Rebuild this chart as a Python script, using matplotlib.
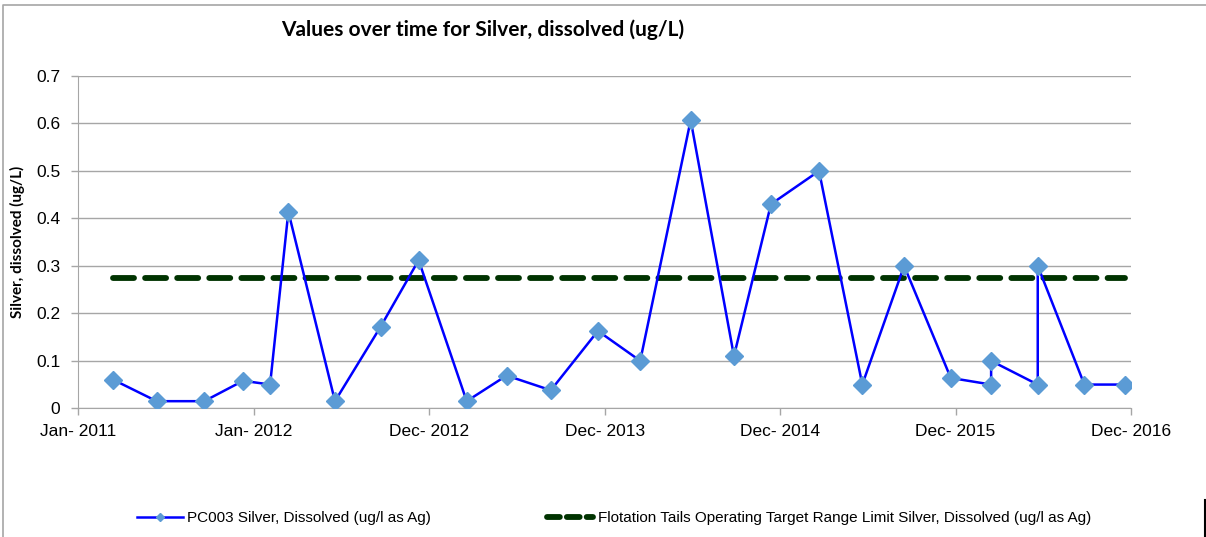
import pandas as pd
import numpy as np
import matplotlib.pyplot as plt
from matplotlib.lines import Line2D

# sample dates and dissolved silver (ug/L)
sample_dates = ['2011-03-15', '2011-06-13', '2011-09-20', '2011-12-10', '2012-02-04',
                '2012-03-13', '2012-06-18', '2012-09-21', '2012-12-09', '2013-03-19',
                '2013-06-10', '2013-09-10', '2013-12-17', '2014-03-15', '2014-06-28',
                '2014-09-26', '2014-12-12', '2015-03-22', '2015-06-20', '2015-09-15',
                '2015-12-21', '2016-03-14', '2016-03-14', '2016-06-19', '2016-06-19',
                '2016-09-24', '2016-12-18']
silver = [0.060, 0.015, 0.015, 0.058, 0.050,
          0.414, 0.015, 0.172, 0.312, 0.015,
          0.069, 0.038, 0.163, 0.100, 0.607,
          0.110, 0.430, 0.500, 0.050, 0.300,
          0.064, 0.050, 0.100, 0.050, 0.300,
          0.050, 0.050]
limit_value = 0.275

tick_labels = ['Jan- 2011', 'Jan- 2012', 'Dec- 2012', 'Dec- 2013',
               'Dec- 2014', 'Dec- 2015', 'Dec- 2016']
axis_start = pd.Timestamp('2011-01-01')
tick_step_days = 365

series_label = 'PC003 Silver, Dissolved (ug/l as Ag)'
limit_label = 'Flotation Tails Operating Target Range Limit Silver, Dissolved (ug/l as Ag)'

dates = pd.to_datetime(sample_dates)
ticks = [axis_start + pd.Timedelta(days=tick_step_days * i) for i in range(len(tick_labels))]

W, H = 1206, 537
fig = plt.figure(figsize=(W / 100, H / 100), dpi=100)
ax = fig.add_axes([78.3 / W, 1 - 408.3 / H, (1131 - 78.3) / W, (408.3 - 76) / H])

ax.plot([dates[0], dates[-1]], [limit_value, limit_value], color='#003300', lw=4.2,
        linestyle=(0, (3.6, 1.9)), dash_capstyle='round', zorder=2)
ax.plot(dates, silver, color='#0000ff', lw=1.8, marker='D', markersize=9,
        markerfacecolor='#5b9bd5', markeredgecolor='#5b9bd5', zorder=3)

ax.set_xlim(ticks[0], ticks[-1])
ax.set_ylim(0, 0.7)
ax.set_xticks(ticks)
ax.set_xticklabels(tick_labels)
ax.set_yticks(np.arange(0, 0.71, 0.1))
ax.set_yticklabels(['0', '0.1', '0.2', '0.3', '0.4', '0.5', '0.6', '0.7'])

ax.grid(axis='y', color='#a6a6a6', lw=1)
ax.set_axisbelow(True)
for s in ['top', 'right']:
    ax.spines[s].set_visible(False)
for s in ['left', 'bottom']:
    ax.spines[s].set_color('#a6a6a6')
ax.tick_params(axis='both', colors='#a6a6a6', length=5, width=1, labelcolor='black',
               labelsize=12.5)
for lab in ax.get_xticklabels() + ax.get_yticklabels():
    lab.set_family('Liberation Sans')
ax.tick_params(axis='x', pad=6)
ax.tick_params(axis='y', pad=8)

fig.text(483 / W, 1 - 30 / H, 'Values over time for Silver, dissolved (ug/L)',
         ha='center', va='center', fontsize=15, fontweight='bold', family='Lato')
fig.text(17 / W, 1 - 242 / H, 'Silver, dissolved (ug/L)', rotation=90,
         ha='center', va='center', fontsize=11, fontweight='bold', family='Lato')

h1 = Line2D([], [], color='#0000ff', lw=1.8, marker='D', markersize=4,
            markerfacecolor='#5b9bd5', markeredgecolor='#5b9bd5')
h2 = Line2D([], [], color='#003300', lw=4.2, linestyle=(0, (2.2, 1.2)),
            dash_capstyle='round')
fig.legend([h1, h2], [series_label, limit_label], loc='center',
           bbox_to_anchor=(614 / W, 1 - 518 / H), ncol=2, frameon=False,
           prop={'family': 'Liberation Sans', 'size': 11},
           handlelength=3.0, handletextpad=0.3, columnspacing=7.6)

# chart area border
fig.add_artist(Line2D([3 / W, 3 / W, 1], [0, 1 - 4.5 / H, 1 - 4.5 / H],
                      color='#a6a6a6', lw=1.2, transform=fig.transFigure))
fig.add_artist(Line2D([1 - 1.5 / W, 1 - 1.5 / W], [0, 1 - 500 / H],
                      color='black', lw=1.5, transform=fig.transFigure))

fig.savefig('out.png', dpi=100)
